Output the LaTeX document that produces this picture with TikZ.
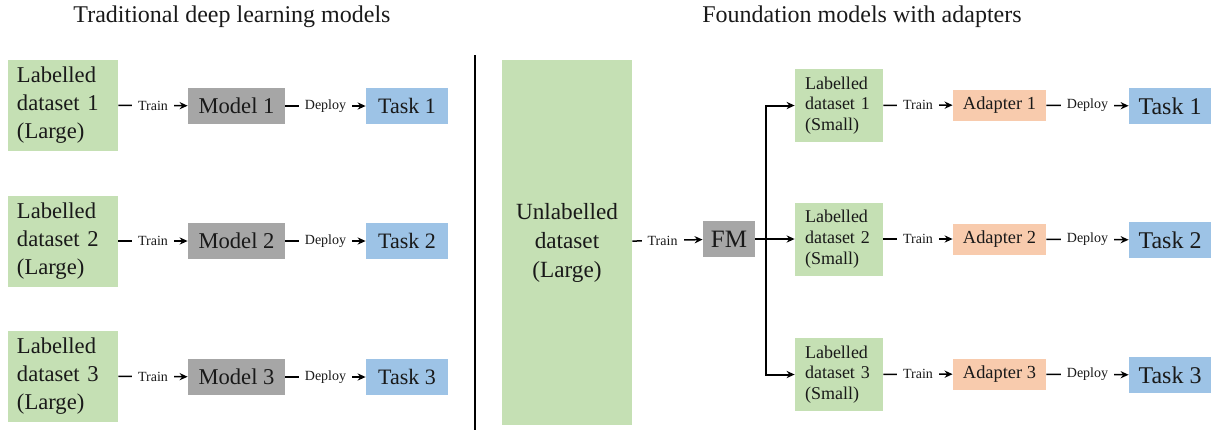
\documentclass[tikz,border=0pt]{standalone}
\usepackage{fontspec}
\setmainfont{Liberation Serif}
\usepackage{xcolor}
\usetikzlibrary{positioning, arrows.meta}
\definecolor{datagreen}{HTML}{C5E0B4}
\definecolor{modelgray}{HTML}{A6A6A6}
\definecolor{taskblue}{HTML}{9DC3E6}
\definecolor{adaptpeach}{HTML}{F8CBAD}
\tikzset{
    >={Stealth[length=4pt,width=3.6pt]},        % small bold arrow heads
    x=0.5pt, y=-0.5pt,                          % one unit is one pixel, y pointing down
    box/.style={inner sep=0pt, text=black!90},  % plain filled boxes without border
    bigdata/.style={box, fill=datagreen, align=left, text width=46pt, minimum width=55pt,
        minimum height=45.5pt, font=\fontsize{11.3}{14}\selectfont},
    smalldata/.style={box, fill=datagreen, align=left, text width=34pt, minimum width=44pt,
        minimum height=36.5pt, font=\fontsize{9}{10.4}\selectfont},
    model/.style={box, fill=modelgray, minimum width=48.5pt, minimum height=18pt,
        font=\fontsize{11.3}{13}\selectfont},
    adapter/.style={box, fill=adaptpeach, minimum width=46.5pt, minimum height=15.5pt,
        font=\fontsize{9.2}{11}\selectfont},
    task/.style={box, fill=taskblue, minimum width=41pt, minimum height=18pt},
    flow/.style={->, line width=0.75pt},        % labelled arrows
    branch/.style={->, line width=1pt},         % FM to the small datasets
    lbl/.style={fill=white, inner xsep=3pt, inner ysep=1pt, text=black!90,
        font=\fontsize{7}{8}\selectfont},
    heading/.style={font=\fontsize{12}{14}\selectfont, text=black!90},
}

\begin{document}
\begin{tikzpicture}
\useasboundingbox (0,0) rectangle (1214,430);

% traditional models
\node[heading] (titleL) at (232,17) {Traditional deep learning models};
\node[bigdata] (ld1) at (63,105) {Labelled\\dataset 1\\(Large)};
\node[bigdata] (ld2) at (63,241) {Labelled\\dataset 2\\(Large)};
\node[bigdata] (ld3) at (63,376) {Labelled\\dataset 3\\(Large)};
\node[model] (m1) at (236.5,106) {Model 1};
\node[model] (m2) at (236.5,241) {Model 2};
\node[model] (m3) at (236.5,377) {Model 3};
\node[task, font=\fontsize{11}{13}\selectfont] (t1) at (407,106) {Task 1};
\node[task, font=\fontsize{11}{13}\selectfont] (t2) at (407,241) {Task 2};
\node[task, font=\fontsize{11}{13}\selectfont] (t3) at (407,377) {Task 3};

\coordinate (divtop) at (475,55);
\coordinate (divbot) at (475,430);
\draw[line width=0.8pt] (divtop) -- (divbot);

% foundation model with adapters
\node[heading] (titleR) at (862,17) {Foundation models with adapters};
\node[box, fill=datagreen, align=center, minimum width=65pt, minimum height=182.5pt,
    font=\fontsize{11.6}{14.5}\selectfont] (unl) at (567,242.5) {Unlabelled\\dataset\\(Large)};
\node[model, minimum width=26pt, font=\fontsize{12.5}{14}\selectfont] (fm) at (729,239) {FM};
\coordinate (split) at (766,239);
\node[smalldata] (sd1) at (839,105.5) {Labelled\\dataset 1\\(Small)};
\node[smalldata] (sd2) at (839,239) {Labelled\\dataset 2\\(Small)};
\node[smalldata] (sd3) at (839,374.5) {Labelled\\dataset 3\\(Small)};
\node[adapter] (a1) at (999.5,105) {Adapter 1};
\node[adapter] (a2) at (999.5,239) {Adapter 2};
\node[adapter] (a3) at (999.5,374) {Adapter 3};
\node[task, font=\fontsize{12}{14}\selectfont] (tr1) at (1170,106) {Task 1};
\node[task, font=\fontsize{12}{14}\selectfont] (tr2) at (1170,240) {Task 2};
\node[task, font=\fontsize{12}{14}\selectfont] (tr3) at (1170,375) {Task 3};

\draw
(ld1) edge[flow] node[lbl]{Train} (m1)
(ld2) edge[flow] node[lbl]{Train} (m2)
(ld3) edge[flow] node[lbl]{Train} (m3)
(m1) edge[flow] node[lbl]{Deploy} (t1)
(m2) edge[flow] node[lbl]{Deploy} (t2)
(m3) edge[flow] node[lbl]{Deploy} (t3)
(unl) edge[flow] node[lbl, pos=0.43]{Train} (fm)
(sd1) edge[flow] node[lbl]{Train} (a1)
(sd2) edge[flow] node[lbl]{Train} (a2)
(sd3) edge[flow] node[lbl]{Train} (a3)
(a1) edge[flow] node[lbl]{Deploy} (tr1)
(a2) edge[flow] node[lbl]{Deploy} (tr2)
(a3) edge[flow] node[lbl]{Deploy} (tr3);

\draw[branch] (fm) -- (sd2);
\draw[branch] (split) |- (sd1);
\draw[branch] (split) |- (sd3);

\end{tikzpicture}
\end{document}
